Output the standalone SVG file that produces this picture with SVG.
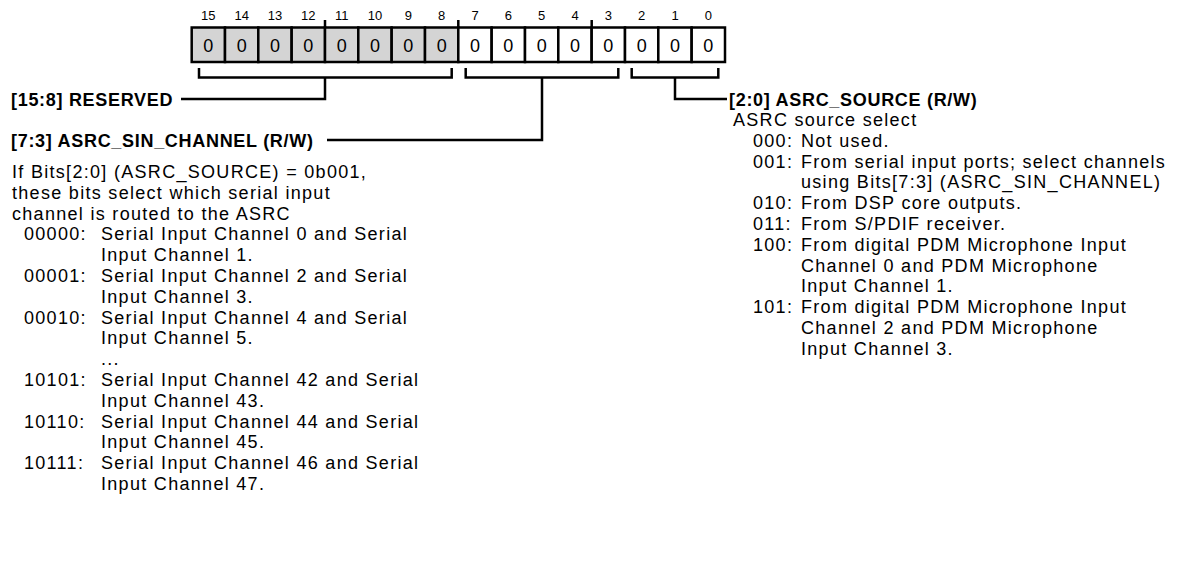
<svg xmlns="http://www.w3.org/2000/svg" width="1193" height="561" viewBox="0 0 1193 561">
<style>
.t{font-family:"Liberation Sans",Arial,sans-serif;font-size:18px;letter-spacing:1.3px;fill:#000}
.b{font-family:"Liberation Sans",Arial,sans-serif;font-size:18px;font-weight:bold;letter-spacing:0.7px;fill:#000}
.n{font-family:"Liberation Sans",Arial,sans-serif;font-size:13px;fill:#000;text-anchor:middle}
.v{font-family:"Liberation Sans",Arial,sans-serif;font-size:18px;fill:#000;text-anchor:middle}
.cg{fill:#d4d4d4;stroke:#000;stroke-width:2.5}
.cw{fill:#fff;stroke:#000;stroke-width:2.5}
.ln{fill:none;stroke:#000;stroke-width:2.5}
</style>
<rect width="1193" height="561" fill="#fff"/>
<g id="register">
<g id="bit-numbers">
<text class="n" x="208.3" y="20">15</text><text class="n" x="241.7" y="20">14</text><text class="n" x="275" y="20">13</text><text class="n" x="308.3" y="20">12</text><text class="n" x="341.7" y="20">11</text><text class="n" x="375" y="20">10</text><text class="n" x="408.3" y="20">9</text><text class="n" x="441.7" y="20">8</text>
<text class="n" x="475" y="20">7</text><text class="n" x="508.3" y="20">6</text><text class="n" x="541.7" y="20">5</text><text class="n" x="575" y="20">4</text><text class="n" x="608.3" y="20">3</text><text class="n" x="641.7" y="20">2</text><text class="n" x="675" y="20">1</text><text class="n" x="708.3" y="20">0</text>
</g>
<g id="cells">
<rect class="cg" x="191.7" y="27.5" width="33.3" height="34.5"/><rect class="cg" x="225" y="27.5" width="33.3" height="34.5"/><rect class="cg" x="258.3" y="27.5" width="33.3" height="34.5"/><rect class="cg" x="291.7" y="27.5" width="33.3" height="34.5"/><rect class="cg" x="325" y="27.5" width="33.3" height="34.5"/><rect class="cg" x="358.3" y="27.5" width="33.3" height="34.5"/><rect class="cg" x="391.7" y="27.5" width="33.3" height="34.5"/><rect class="cg" x="425" y="27.5" width="33.3" height="34.5"/>
<rect class="cw" x="458.3" y="27.5" width="33.3" height="34.5"/><rect class="cw" x="491.7" y="27.5" width="33.3" height="34.5"/><rect class="cw" x="525" y="27.5" width="33.3" height="34.5"/><rect class="cw" x="558.3" y="27.5" width="33.3" height="34.5"/><rect class="cw" x="591.7" y="27.5" width="33.3" height="34.5"/><rect class="cw" x="625" y="27.5" width="33.3" height="34.5"/><rect class="cw" x="658.3" y="27.5" width="33.3" height="34.5"/><rect class="cw" x="691.7" y="27.5" width="33.3" height="34.5"/>
</g>
<g id="values">
<text class="v" x="208.3" y="51.5">0</text><text class="v" x="241.7" y="51.5">0</text><text class="v" x="275" y="51.5">0</text><text class="v" x="308.3" y="51.5">0</text><text class="v" x="341.7" y="51.5">0</text><text class="v" x="375" y="51.5">0</text><text class="v" x="408.3" y="51.5">0</text><text class="v" x="441.7" y="51.5">0</text>
<text class="v" x="475" y="51.5">0</text><text class="v" x="508.3" y="51.5">0</text><text class="v" x="541.7" y="51.5">0</text><text class="v" x="575" y="51.5">0</text><text class="v" x="608.3" y="51.5">0</text><text class="v" x="641.7" y="51.5">0</text><text class="v" x="675" y="51.5">0</text><text class="v" x="708.3" y="51.5">0</text>
</g>
<g id="ticks"><path class="ln" d="M325,20V28M458.3,20V28M591.7,20V28" stroke-width="2"/></g>
</g>
<g id="connectors">
<path class="ln" d="M199,68V77.5H451.7V68"/>
<path class="ln" d="M465.7,68V77.5H618.3V68"/>
<path class="ln" d="M631.7,68V77.5H718.3V68"/>
<path class="ln" d="M325,77.5V99H181"/>
<path class="ln" d="M542,77.5V140H327"/>
<path class="ln" d="M675,77.5V99H727"/>
</g>
<g id="reserved">
<text class="b" x="11" y="106">[15:8] RESERVED</text>
</g>
<g id="asrc-sin-channel">
<text class="b" x="11" y="147">[7:3] ASRC_SIN_CHANNEL (R/W)</text>
<text class="t" x="12" y="178">If Bits[2:0] (ASRC_SOURCE) = 0b001,</text>
<text class="t" x="12" y="198.8">these bits select which serial input</text>
<text class="t" x="12" y="219.6">channel is routed to the ASRC</text>
<text class="t" x="24" y="240.4">00000:</text><text class="t" x="101" y="240.4">Serial Input Channel 0 and Serial</text>
<text class="t" x="101" y="261.2">Input Channel 1.</text>
<text class="t" x="24" y="282">00001:</text><text class="t" x="101" y="282">Serial Input Channel 2 and Serial</text>
<text class="t" x="101" y="302.8">Input Channel 3.</text>
<text class="t" x="24" y="323.6">00010:</text><text class="t" x="101" y="323.6">Serial Input Channel 4 and Serial</text>
<text class="t" x="101" y="344.4">Input Channel 5.</text>
<text class="t" x="101" y="365.2">...</text>
<text class="t" x="24" y="386">10101:</text><text class="t" x="101" y="386">Serial Input Channel 42 and Serial</text>
<text class="t" x="101" y="406.8">Input Channel 43.</text>
<text class="t" x="24" y="427.6">10110:</text><text class="t" x="101" y="427.6">Serial Input Channel 44 and Serial</text>
<text class="t" x="101" y="448.4">Input Channel 45.</text>
<text class="t" x="24" y="469.2">10111:</text><text class="t" x="101" y="469.2">Serial Input Channel 46 and Serial</text>
<text class="t" x="101" y="490">Input Channel 47.</text>
</g>
<g id="asrc-source">
<text class="b" x="729" y="106">[2:0] ASRC_SOURCE (R/W)</text>
<text class="t" x="733" y="126">ASRC source select</text>
<text class="t" x="753" y="146.8">000:</text><text class="t" x="801" y="146.8">Not used.</text>
<text class="t" x="753" y="167.6">001:</text><text class="t" x="801" y="167.6">From serial input ports; select channels</text>
<text class="t" x="801" y="188.4">using Bits[7:3] (ASRC_SIN_CHANNEL)</text>
<text class="t" x="753" y="209.2">010:</text><text class="t" x="801" y="209.2">From DSP core outputs.</text>
<text class="t" x="753" y="230">011:</text><text class="t" x="801" y="230">From S/PDIF receiver.</text>
<text class="t" x="753" y="250.8">100:</text><text class="t" x="801" y="250.8">From digital PDM Microphone Input</text>
<text class="t" x="801" y="271.6">Channel 0 and PDM Microphone</text>
<text class="t" x="801" y="292.4">Input Channel 1.</text>
<text class="t" x="753" y="313.2">101:</text><text class="t" x="801" y="313.2">From digital PDM Microphone Input</text>
<text class="t" x="801" y="334">Channel 2 and PDM Microphone</text>
<text class="t" x="801" y="354.8">Input Channel 3.</text>
</g>
</svg>
